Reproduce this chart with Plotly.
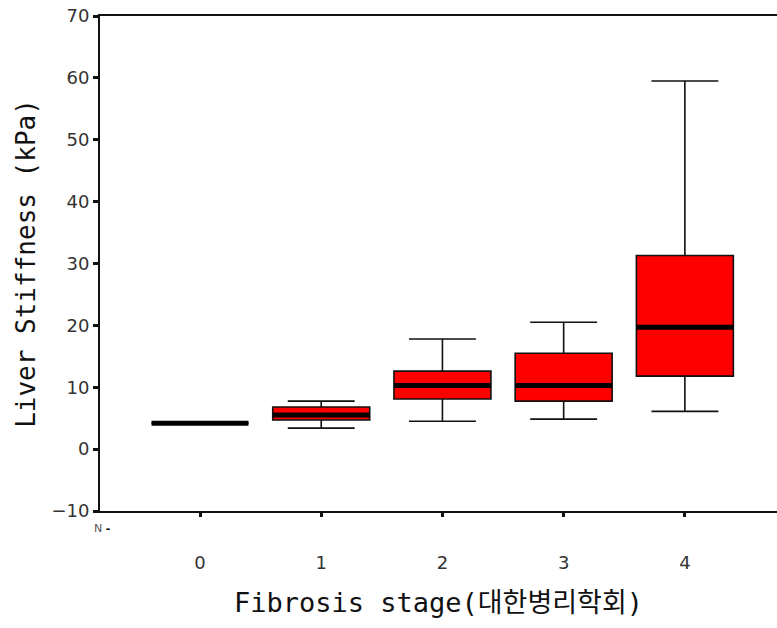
import plotly.graph_objects as go

stages = [0, 1, 2, 3, 4]
stage_labels = ["0", "1", "2", "3", "4"]
lower = [4.2, 3.4, 4.5, 4.85, 6.1]
q1 = [4.2, 4.7, 8.1, 7.75, 11.8]
median = [4.2, 5.5, 10.3, 10.3, 19.7]
q3 = [4.2, 6.8, 12.6, 15.5, 31.3]
upper = [4.2, 7.75, 17.8, 20.5, 59.5]
y_ticks = [-10, 0, 10, 20, 30, 40, 50, 60, 70]

box_w = 0.8

fig = go.Figure()
fig.add_trace(go.Box(
    x=stages, q1=q1, median=median, q3=q3,
    lowerfence=lower, upperfence=upper,
    width=box_w, whiskerwidth=0.69,
    fillcolor="#ff0000",
    line=dict(color="#111111", width=1.6),
    boxpoints=False, showlegend=False, hoverinfo="skip",
))

mx, my = [], []
for s, m in zip(stages, median):
    mx += [s - box_w / 2, s + box_w / 2, None]
    my += [m, m, None]
fig.add_trace(go.Scatter(
    x=mx, y=my, mode="lines",
    line=dict(color="#000000", width=5),
    showlegend=False, hoverinfo="skip",
))

fig.add_annotation(
    text="N <span style='color:#000'><b>-</b></span>", xref="paper", yref="paper",
    x=0.018, y=-0.036, xanchor="right", yanchor="middle",
    showarrow=False, font=dict(family="DejaVu Sans", size=11, color="#555555"),
)

fig.update_layout(
    width=777, height=628,
    margin=dict(l=100, r=0, t=16, b=117),
    paper_bgcolor="white", plot_bgcolor="white",
    font=dict(family="DejaVu Sans", size=18, color="#333333"),
    xaxis=dict(
        range=[-0.825, 4.76], tickmode="array",
        tickvals=stages, ticktext=stage_labels,
        showgrid=False, zeroline=False,
        showline=True, linecolor="#111111", linewidth=2, mirror=True,
        ticks="outside", ticklen=4, tickwidth=3, tickcolor="#111111",
        ticklabelstandoff=30,
        tickfont=dict(family="DejaVu Sans", size=18, color="#333333"),
        title=dict(text="Fibrosis stage(대한병리학회)",
                   font=dict(family="DejaVu Sans Mono, Noto Sans CJK KR", size=27, color="#111111"),
                   standoff=22),
    ),
    yaxis=dict(
        range=[-10, 70], tickmode="array", tickvals=y_ticks,
        showgrid=False, zeroline=False,
        showline=True, linecolor="#111111", linewidth=2,
        ticks="outside", ticklen=5, tickwidth=3, tickcolor="#111111",
        tickfont=dict(family="DejaVu Sans", size=18, color="#333333"),
        title=dict(text="Liver Stiffness (kPa)",
                   font=dict(family="DejaVu Sans Mono, Noto Sans CJK KR", size=26, color="#111111"),
                   standoff=8),
    ),
)

fig.write_html("out.html")
